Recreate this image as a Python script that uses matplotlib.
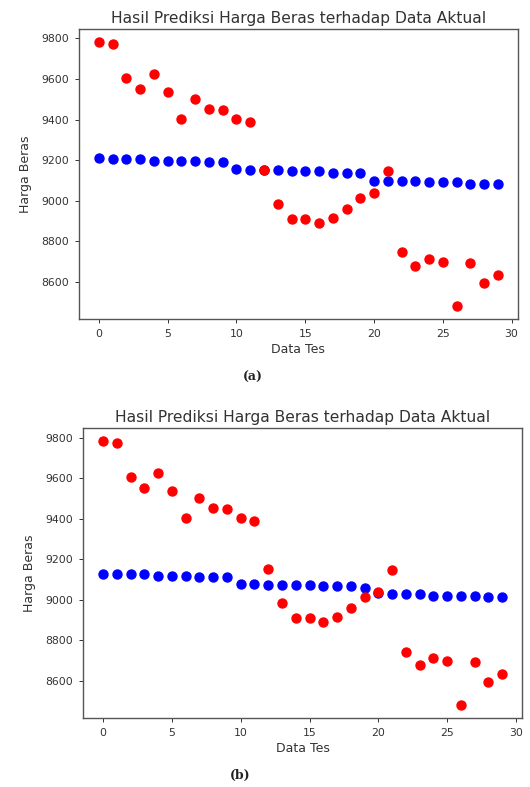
import numpy as np
import matplotlib
matplotlib.use("Agg")
import matplotlib.pyplot as plt

data_tes = list(range(30))

# harga aktual (sama di kedua panel)
aktual = [9782, 9775, 9604, 9551, 9624, 9538, 9401, 9500, 9454, 9447,
          9405, 9388, 9151, 8981, 8907, 8907, 8888, 8915, 8961, 9012,
          9039, 9144, 8744, 8679, 8712, 8697, 8481, 8691, 8592, 8631]

# prediksi panel (a)
prediksi_a = [9210, 9203, 9203, 9203, 9197, 9197, 9197, 9197, 9190, 9190,
              9157, 9151, 9151, 9151, 9144, 9144, 9144, 9137, 9137, 9137,
              9098, 9098, 9098, 9098, 9091, 9091, 9091, 9084, 9084, 9084]

# prediksi panel (b)
prediksi_b = [9124, 9124, 9124, 9124, 9118, 9118, 9118, 9111, 9111, 9111,
              9078, 9078, 9072, 9072, 9072, 9072, 9065, 9065, 9065, 9059,
              9032, 9026, 9026, 9026, 9019, 9019, 9019, 9019, 9013, 9013]

judul = "Hasil Prediksi Harga Beras terhadap Data Aktual"

fig = plt.figure(figsize=(5.3, 7.87), dpi=100)
ax1 = fig.add_axes([0.149, 0.5947, 0.828, 0.3685])
ax2 = fig.add_axes([0.157, 0.0877, 0.828, 0.3685])

for ax, pred in [(ax1, prediksi_a), (ax2, prediksi_b)]:
    ax.scatter(data_tes, pred, color="blue", s=42, zorder=2)
    ax.scatter(data_tes, aktual, color="red", s=42, zorder=3)
    ax.set_title(judul, fontsize=11.2, color="#333333", pad=4)
    ax.set_xlabel("Data Tes", fontsize=9, color="#333333", labelpad=3)
    ax.set_ylabel("Harga Beras", fontsize=9, color="#333333", labelpad=7)
    ax.set_xticks([0, 5, 10, 15, 20, 25, 30])
    ax.set_yticks([8600, 8800, 9000, 9200, 9400, 9600, 9800])
    ax.tick_params(labelsize=7.8, colors="#333333", length=3, width=0.7, pad=4)
    for s in ax.spines.values():
        s.set_color("#555555")
        s.set_linewidth(1.0)

fig.text(0.477, 1 - 377 / 787, "(a)", ha="center", va="center",
         fontsize=9, family="DejaVu Serif", fontweight="bold", color="#222222")
fig.text(0.453, 1 - 775 / 787, "(b)", ha="center", va="center",
         fontsize=9, family="DejaVu Serif", fontweight="bold", color="#222222")

fig.savefig("out.png", dpi=100)
